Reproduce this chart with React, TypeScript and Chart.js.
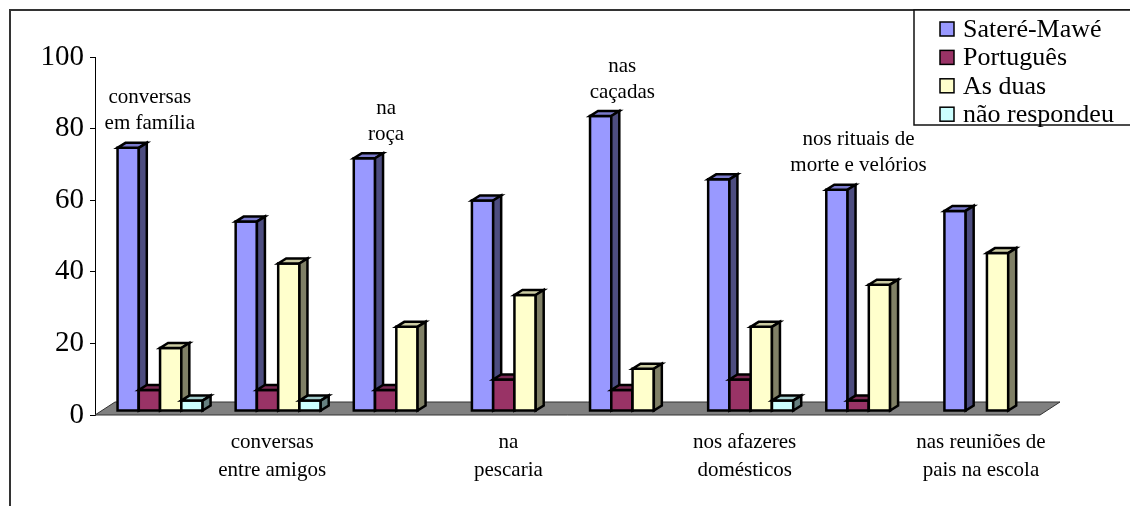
import React, { useEffect, useRef } from "react";
import { Chart, registerables } from "chart.js";

Chart.register(...registerables);

// ---------- data ----------
const categories: string[][] = [
  ["conversas", "em família"],
  ["conversas", "entre amigos"],
  ["na", "roça"],
  ["na", "pescaria"],
  ["nas", "caçadas"],
  ["nos afazeres", "domésticos"],
  ["nos rituais de", "morte e velórios"],
  ["nas reuniões de", "pais na escola"],
];
const seriesNames = ["Sateré-Mawé", "Português", "As duas", "não respondeu"];
const satereMawe = [73.5, 52.9, 70.6, 58.8, 82.4, 64.7, 61.8, 55.9];
const portugues = [5.9, 5.9, 5.9, 8.8, 5.9, 8.8, 2.9, 0];
const asDuas = [17.6, 41.2, 23.5, 32.4, 11.8, 23.5, 35.3, 44.1];
const naoRespondeu = [2.9, 2.9, 0, 0, 0, 2.9, 0, 0];
const yMin = 0;
const yMax = 100;
const yStep = 20;

// ---------- styles ----------
const FONT = '"Liberation Serif", "Times New Roman", Times, serif';
const frontColors = ["#9999FF", "#993366", "#FFFFCC", "#CCFFFF"];
const topColors = ["#7A7ACC", "#7A2952", "#CCCCA3", "#A3CCCC"];
const sideColors = ["#4D4D80", "#4D1A33", "#808066", "#668080"];

const OX = 6, OY = -4; // bar placement inside floor depth
const DX = 8, DY = -5; // bar depth
const FX = 20, FY = -13; // floor depth

const bar3d = {
  id: "bar3d",
  beforeDraw(chart: any) {
    const ctx = chart.ctx;
    ctx.save();
    ctx.fillStyle = "#fff";
    ctx.fillRect(0, 0, chart.width, chart.height);
    ctx.strokeStyle = "#333";
    ctx.lineWidth = 2;
    ctx.beginPath();
    ctx.moveTo(10, chart.height + 2);
    ctx.lineTo(10, 10);
    ctx.lineTo(chart.width + 2, 10);
    ctx.stroke();
    ctx.restore();
  },
  beforeDatasetsDraw(chart: any) {
    const ctx = chart.ctx;
    const { left, right } = chart.chartArea;
    const y0 = chart.scales.y.getPixelForValue(0);
    ctx.save();
    // floor
    ctx.beginPath();
    ctx.moveTo(left, y0);
    ctx.lineTo(right, y0);
    ctx.lineTo(right + FX, y0 + FY);
    ctx.lineTo(left + FX, y0 + FY);
    ctx.closePath();
    ctx.fillStyle = "#808080";
    ctx.fill();
    ctx.strokeStyle = "#333";
    ctx.lineWidth = 1;
    ctx.stroke();

    ctx.lineWidth = 2.5;
    ctx.strokeStyle = "#000";
    ctx.lineJoin = "miter";
    const n = chart.data.labels.length;
    for (let i = 0; i < n; i++) {
      for (let d = 0; d < chart.data.datasets.length; d++) {
        const v = chart.data.datasets[d].data[i];
        if (!v) continue;
        const el = chart.getDatasetMeta(d).data[i];
        const p = el.getProps(["x", "y", "base", "width"], true);
        const x0 = p.x - p.width / 2 + OX;
        const x1 = p.x + p.width / 2 + OX;
        const yt = p.y + OY;
        const yb = p.base + OY;
        // front
        ctx.beginPath();
        ctx.rect(x0, yt, x1 - x0, yb - yt);
        ctx.fillStyle = frontColors[d];
        ctx.fill();
        ctx.stroke();
        // top
        ctx.beginPath();
        ctx.moveTo(x0, yt);
        ctx.lineTo(x1, yt);
        ctx.lineTo(x1 + DX, yt + DY);
        ctx.lineTo(x0 + DX, yt + DY);
        ctx.closePath();
        ctx.fillStyle = topColors[d];
        ctx.fill();
        ctx.stroke();
        // side
        ctx.beginPath();
        ctx.moveTo(x1, yt);
        ctx.lineTo(x1 + DX, yt + DY);
        ctx.lineTo(x1 + DX, yb + DY);
        ctx.lineTo(x1, yb);
        ctx.closePath();
        ctx.fillStyle = sideColors[d];
        ctx.fill();
        ctx.stroke();
      }
    }
    ctx.restore();
    return false;
  },
  afterDraw(chart: any) {
    const ctx = chart.ctx;
    ctx.save();
    // category labels drawn above the bars (even indices)
    ctx.font = `21px ${FONT}`;
    ctx.fillStyle = "#000";
    ctx.textAlign = "center";
    ctx.textBaseline = "middle";
    const meta0 = chart.getDatasetMeta(0);
    categories.forEach((lines, i) => {
      if (i % 2 !== 0) return;
      const p = meta0.data[i].getProps(["x", "y", "width"], true);
      const cx = p.x + p.width / 2 + OX + DX + 3;
      const yBottom = p.y + OY - 24;
      lines.forEach((t, k) => {
        ctx.fillText(t, cx, yBottom - (lines.length - 1 - k) * 26);
      });
    });

    // legend
    const bx = 914, by = 10, bw = chart.width - bx + 4, bh = 115;
    ctx.fillStyle = "#fff";
    ctx.fillRect(bx, by, bw, bh);
    ctx.strokeStyle = "#111";
    ctx.lineWidth = 1.5;
    ctx.strokeRect(bx, by, bw, bh);
    ctx.font = `26px ${FONT}`;
    ctx.textAlign = "left";
    ctx.textBaseline = "alphabetic";
    chart.data.datasets.forEach((ds: any, k: number) => {
      const base = 37 + k * 28.4;
      ctx.fillStyle = frontColors[k];
      ctx.fillRect(940, base - 15, 14, 14);
      ctx.strokeStyle = "#000";
      ctx.lineWidth = 1.5;
      ctx.strokeRect(940, base - 15, 14, 14);
      ctx.fillStyle = "#000";
      ctx.fillText(ds.label, 963, base);
    });
    ctx.restore();
  },
};

export default function App() {
  const ref = useRef<HTMLCanvasElement | null>(null);
  useEffect(() => {
    if (!ref.current) return;
    const series = [satereMawe, portugues, asDuas, naoRespondeu];
    const chart = new Chart(ref.current, {
      type: "bar",
      data: {
        labels: categories,
        datasets: series.map((data, k) => ({
          label: seriesNames[k],
          data,
          backgroundColor: frontColors[k],
          borderColor: "#000",
          borderWidth: 2,
          barPercentage: 1,
          categoryPercentage: 0.72,
        })),
      },
      options: {
        responsive: false,
        animation: false,
        events: [],
        layout: { padding: { left: 0, top: 57, right: 90, bottom: 0 } },
        plugins: {
          legend: { display: false },
          tooltip: { enabled: false },
        },
        scales: {
          x: {
            grid: { display: false, drawTicks: false },
            border: { display: false },
            ticks: {
              autoSkip: false,
              maxRotation: 0,
              minRotation: 0,
              padding: 14,
              color: "#000",
              font: { family: FONT, size: 21, lineHeight: 1.32 },
              callback: (_v: any, i: number) => (i % 2 === 1 ? categories[i] : ""),
            },
            afterFit: (s: any) => {
              s.height = 91;
            },
          },
          y: {
            min: yMin,
            max: yMax,
            ticks: {
              stepSize: yStep,
              padding: 6,
              color: "#000",
              font: { family: FONT, size: 29 },
            },
            grid: {
              drawOnChartArea: false,
              drawTicks: true,
              tickLength: 5,
              color: "#000",
            },
            border: { color: "#000", width: 1 },
            afterFit: (s: any) => {
              s.width = 95;
            },
          },
        },
      },
      plugins: [bar3d],
    });
    return () => chart.destroy();
  }, []);
  return (
    <div style={{ position: "absolute", left: 0, top: 0, width: 1130, height: 506 }}>
      <canvas ref={ref} width={1130} height={506} style={{ display: "block" }} />
    </div>
  );
}
